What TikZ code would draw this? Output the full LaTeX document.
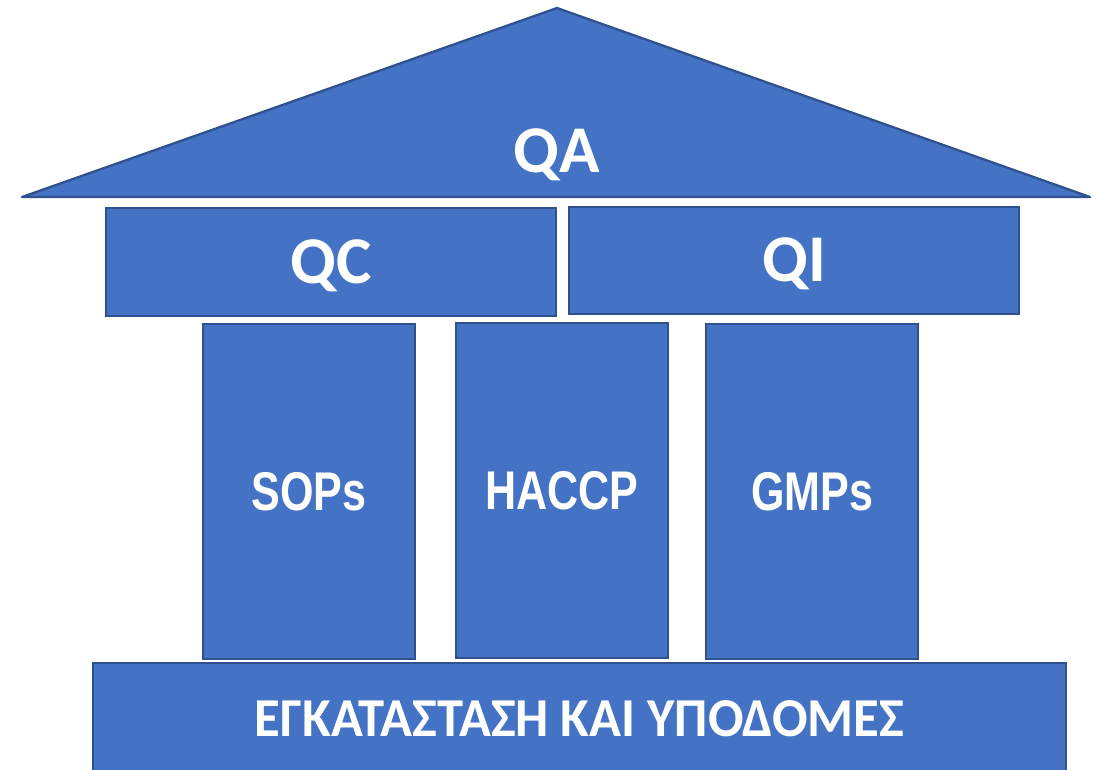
\documentclass[tikz,border=0pt]{standalone}
\usepackage{graphicx}
\usepackage{fontspec}
\setmainfont{Carlito}
\newfontfamily\pillarfont{Liberation Sans}
\definecolor{boxblue}{HTML}{4472C4}
\definecolor{edgeblue}{HTML}{2F528F}
\newcommand{\narrowtext}[1]{\scalebox{0.79}[1]{#1}}

\begin{document}
\begin{tikzpicture}[x=0.01cm,y=-0.01cm,
    box/.style={draw=edgeblue,fill=boxblue,line width=0.65pt,inner sep=0pt,text=white,
      font=\bfseries\fontsize{19}{19}\selectfont,text height=12pt,text depth=0pt},
    pillar/.style={box,minimum width=2.12cm,minimum height=3.35cm,
      font=\pillarfont\bfseries\fontsize{15.5}{15.5}\selectfont,text height=11pt},
    beam/.style={box,minimum width=4.5cm,minimum height=1.08cm}]
  \useasboundingbox (0,0) rectangle (1104,769);
  \filldraw[draw=edgeblue,fill=boxblue,line width=0.65pt,line join=round]
    (22,197) coordinate (eaveleft) -- (557,8) coordinate (apex) -- (1090,197) coordinate (eaveright) -- cycle;
  \node[text=white,inner sep=0pt,font=\bfseries\fontsize{19}{19}\selectfont,text height=12pt,text depth=0pt]
    (qa) at (557,151) {QA};
  \node[beam] (qc) at (331,262) {QC};
  \node[beam,minimum height=1.07cm] (qi) at (794,260.5) {QI};
  \node[pillar] (sops) at (309,491.5) {\narrowtext{SOPs}};
  \node[pillar] (haccp) at (562,490.5) {\narrowtext{HACCP}};
  \node[pillar] (gmps) at (812,491.5) {\narrowtext{GMPs}};
  \node[box,minimum width=9.73cm,minimum height=1.12cm,font=\bfseries\fontsize{15.6}{15.6}\selectfont,text height=10pt]
    (base) at (579.5,719) {\scalebox{0.96}[1]{ΕΓΚΑΤΑΣΤΑΣΗ ΚΑΙ ΥΠΟΔΟΜΕΣ}};
\end{tikzpicture}
\end{document}
